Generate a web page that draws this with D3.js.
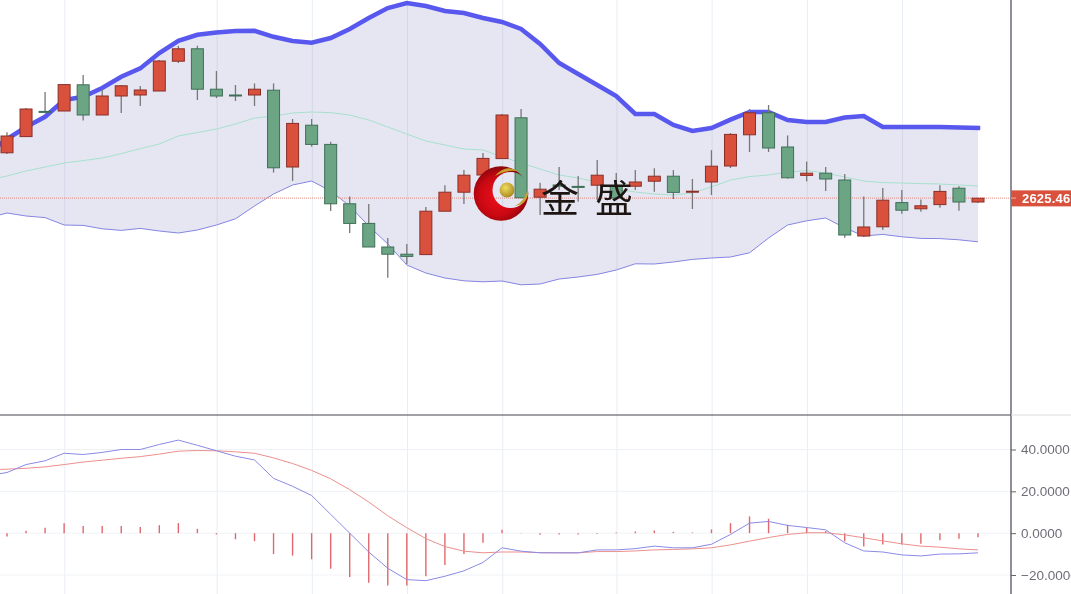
<!DOCTYPE html>
<html><head><meta charset="utf-8">
<script src="https://cdn.jsdelivr.net/npm/d3@7/dist/d3.min.js"></script>
<style>html,body{margin:0;padding:0;background:#fff;overflow:hidden}svg{display:block;filter:blur(0.35px)}</style>
</head><body><svg id="c" width="1071" height="594"></svg>
<script>
const open_=[2648.1,2656.2,2668.8,2669,2682.1,2667,2676.5,2677,2679,2693.9,2700.1,2679.9,2677,2677,2679.4,2641,2661.9,2652.3,2622.6,2612.8,2601,2597.4,2597.2,2618.9,2628.4,2637,2645.2,2665.6,2625.9,2632,2631.3,2631.9,2631.6,2631.4,2633.9,2636.4,2628.6,2633.5,2641.5,2657.1,2668.1,2651,2636.8,2637.9,2634.5,2606.5,2611.1,2623.2,2620.1,2622.2,2630.4,2623.5];
const high_=[2658.4,2670.5,2678.5,2682.2,2687,2680,2682,2681.5,2694.5,2701.6,2701.6,2689,2682,2682.8,2682.8,2665,2665,2653.6,2626.2,2622.5,2605.5,2602.5,2621,2631.9,2639.5,2648,2667.5,2670,2633.1,2641,2636.5,2644.5,2638,2639.5,2640.4,2639.5,2635,2649.4,2658,2670,2672,2656.8,2643.7,2641,2637.5,2626.2,2630.5,2629.5,2624.8,2631.9,2631.4,2625.4];
const low_=[2647.5,2656,2668.5,2669,2664.2,2667,2668,2671.5,2679,2693,2674.5,2675.5,2674,2671.5,2638.2,2634,2651.2,2619,2608,2601,2585.6,2592.5,2597.2,2618.9,2622.5,2636.5,2645.5,2625.5,2617,2629.5,2623.6,2624.5,2631.5,2629.5,2628.6,2625,2620,2627,2640.5,2648.5,2648.5,2635.2,2633.8,2629,2605.6,2606,2609.5,2617.6,2618.6,2620.6,2619.1,2623];
const close_=[2656.5,2670,2668.3,2682.2,2667,2676.5,2681.6,2679.5,2694,2700.1,2679.9,2676.5,2676.5,2679.9,2640.6,2662.8,2652.3,2622.6,2612.8,2601,2597.4,2596.3,2618.9,2628.4,2636.9,2645.3,2667,2625.6,2629.9,2631.4,2630.9,2636.9,2625.5,2633.5,2636.4,2628.3,2628.9,2641.4,2657.3,2668.1,2650.5,2635.6,2637.9,2635,2607,2611,2624.4,2619.4,2621.6,2628.8,2623.5,2625.4];
// line series start one bar before the first visible candle
const bandUpper=[2648,2655,2661,2666.1,2674.5,2676.1,2680.5,2686.1,2690.3,2698,2704.1,2707.1,2708.3,2709,2709.1,2706.1,2704,2703.1,2705.5,2710,2715.5,2720.5,2723,2721.5,2719,2718,2715.5,2713.5,2710,2702.5,2693,2687.5,2682,2676.5,2667.5,2667.5,2662,2659,2660.5,2664.7,2668.5,2668.5,2664.5,2663.5,2663.5,2665.7,2666.5,2661,2661,2661,2661,2660.7,2660.5];
const bandMiddle=[2634.5,2636.5,2639,2641,2643,2644.2,2645.5,2647.7,2650.2,2652.5,2656.5,2658.2,2660,2662.5,2665.5,2666.5,2668,2668.5,2668.2,2667,2664.5,2661,2657.5,2654,2652,2650,2649.5,2646.2,2643,2640,2637,2635.5,2633.5,2630,2628.5,2627.5,2627,2628,2631,2634.5,2636.2,2637,2638.5,2639.2,2638,2636,2634,2633.2,2633,2632.7,2632.5,2632,2631.5];
const bandLower=[2615.5,2618,2616.5,2615.7,2612,2611.8,2610.1,2609.3,2610.3,2609,2608,2609.5,2612,2615.1,2621.5,2627.5,2632,2634,2629,2621.5,2611.5,2602.5,2592,2588,2585.5,2584.1,2583.6,2584,2582.1,2582.5,2585,2586,2587.3,2589.5,2592.6,2592.5,2593.5,2594.8,2595.5,2596,2598.1,2605.5,2612,2614.1,2615.5,2610.6,2606.5,2607.3,2606.1,2605.3,2605.2,2604.6,2603.6];
const macdDif=[27.5,29,32.8,34.6,38.2,37.6,38.6,40,40,42.4,44.5,42,39.4,36.8,35,26.2,22.4,18,9,0,-9,-16.8,-22.2,-22.7,-20.6,-18,-14,-7,-8.6,-9.4,-9.4,-9.4,-8,-8,-7.4,-6.2,-7,-7,-5.3,-0.6,4.8,5.6,3.7,2.7,1.6,-4.6,-8.5,-9,-10.4,-10.9,-10,-9.9,-9.4];
const macdDea=[30.3,30.6,31,31.7,32.8,34,34.9,35.8,36.6,37.8,39.2,39.5,39.4,38.9,38.2,36,33.3,30,26,20.8,14.9,8.3,2.6,-2.6,-6.4,-8.6,-9.4,-9,-9,-9.3,-9.4,-9.4,-8.8,-8.8,-8.5,-8,-7.8,-7.5,-7,-5.6,-3.8,-2.1,-0.6,0.2,0.2,-0.8,-2.2,-3.7,-5.1,-6.2,-6.7,-7.5,-8];
const macdHist=[-1.6,1.1,2.6,4.8,3.4,3.4,3.4,3,3.8,4.8,2.1,-0.6,-2.9,-3.8,-10,-10.7,-12.5,-17,-21,-23.7,-25,-25,-20.6,-15.2,-10,-4.6,1.6,-0.2,-0.8,-0.6,-0.6,-0.4,0.3,0.8,1.3,0.6,0.3,1.8,4.8,8,6.9,4,2.6,1,-4,-6.4,-5.4,-5.4,-5.1,-3.4,-2.7,-1.9];
const gridIndex=[3,11,16,21,26,32,37,42,47];
const macdTicks=[40,20,0,-20];
const lastPrice=2625.46;
const tickLabel=v=>v.toFixed(4).replace('-','\u2212');
const brand=['金','盛'];

const idx=d3.range(open_.length);
const lineIdx=d3.range(bandUpper.length);
const x=d3.scaleLinear().domain([0,51]).range([7,978]);
const xl=i=>x(i-1);
const y=d3.scaleLinear().domain([2724.5,2517.5]).range([0,414]);
const ym=d3.scaleLinear().domain([40,-20]).range([449.5,575]);
const svg=d3.select('#c');
const defs=svg.append('defs');
const rg=defs.append('radialGradient').attr('id','moon').attr('cx','45%').attr('cy','55%').attr('r','60%');
rg.append('stop').attr('offset','0%').attr('stop-color','#f0101c');
rg.append('stop').attr('offset','60%').attr('stop-color','#c80812');
rg.append('stop').attr('offset','100%').attr('stop-color','#7a0408');
const gg=defs.append('radialGradient').attr('id','ball').attr('cx','40%').attr('cy','35%').attr('r','70%');
gg.append('stop').attr('offset','0%').attr('stop-color','#f0dc60');
gg.append('stop').attr('offset','100%').attr('stop-color','#a8861c');
const mk=defs.append('mask').attr('id','hole').attr('maskUnits','userSpaceOnUse').attr('x',460).attr('y',150).attr('width',90).attr('height',90);
mk.append('rect').attr('x',460).attr('y',150).attr('width',90).attr('height',90).attr('fill','#fff');
mk.append('circle').attr('cx',510.5).attr('cy',190).attr('r',18).attr('fill','#000');

// grid
const grid=svg.append('g').attr('stroke','#e8eef4').attr('stroke-width',1);
grid.selectAll('line.v').data(gridIndex).join('line').attr('class','v').attr('x1',d=>x(d)+.7).attr('x2',d=>x(d)+.7).attr('y1',0).attr('y2',594);
grid.selectAll('line.h').data(macdTicks).join('line').attr('class','h').attr('x1',0).attr('x2',1011).attr('y1',d=>ym(d)).attr('y2',d=>ym(d)).attr('stroke','#eef2f6');

// bands
svg.append('clipPath').attr('id','plot').append('rect').attr('x',0).attr('y',0).attr('width',1011).attr('height',594);
const plot=svg.append('g').attr('clip-path','url(#plot)');
plot.append('path').datum(lineIdx).attr('fill','rgb(90,90,170)').attr('fill-opacity',.15)
 .attr('d',d3.area().x(xl).y0(i=>y(bandLower[i])).y1(i=>y(bandUpper[i])));
const lineOf=a=>d3.line().x(xl).y(i=>y(a[i]));
plot.append('path').datum(lineIdx).attr('fill','none').attr('stroke','#5858ee').attr('stroke-width',4.5).attr('stroke-linecap','square').attr('d',lineOf(bandUpper));
plot.append('path').datum(lineIdx).attr('fill','none').attr('stroke','#a6e0cc').attr('stroke-width',1).attr('d',lineOf(bandMiddle));
plot.append('path').datum(lineIdx).attr('fill','none').attr('stroke','#8484e2').attr('stroke-width',1).attr('d',lineOf(bandLower));

// price line
svg.append('line').attr('x1',0).attr('x2',1011).attr('y1',y(lastPrice)).attr('y2',y(lastPrice)).attr('stroke','#e08a80').attr('stroke-width',1).attr('stroke-dasharray','1 1');

// candles
const colUp='#d9513d',colDn='#6ba584',edgeUp='#8a2f28',edgeDn='#3f6f58';
const cg=svg.append('g');
cg.selectAll('line').data(idx).join('line').attr('x1',i=>x(i)).attr('x2',i=>x(i)).attr('y1',i=>y(high_[i])).attr('y2',i=>y(low_[i])).attr('stroke','#777').attr('stroke-width',1.3);
cg.selectAll('rect').data(idx).join('rect')
 .attr('x',i=>x(i)-6).attr('width',12)
 .attr('y',i=>y(Math.max(open_[i],close_[i])))
 .attr('height',i=>Math.max(1,Math.abs(y(open_[i])-y(close_[i]))))
 .attr('fill',i=>close_[i]>=open_[i]?colUp:colDn)
 .attr('stroke',i=>close_[i]>=open_[i]?edgeUp:edgeDn).attr('stroke-width',1);

// logo
const lg=svg.append('g');
lg.append('circle').attr('cx',501).attr('cy',193.5).attr('r',27.3).attr('fill','url(#moon)').attr('mask','url(#hole)');
lg.append('circle').attr('cx',507).attr('cy',190).attr('r',7.5).attr('fill','url(#ball)');
lg.append('path').attr('fill','#c8a02c').attr('d','M495 176 Q506 163 519 172 Q510 168 495 176Z');
lg.append('path').attr('fill','#c8a02c').attr('d','M515 206 Q524 202 528 189 Q529 204 515 206Z');
lg.selectAll('text').data(brand).join('text').attr('x',(d,i)=>i?614:560).attr('y',212)
 .attr('text-anchor','middle').attr('font-family','"Noto Sans CJK SC"').attr('font-size',38).attr('fill','#1c1512').text(d=>d);

// macd
const mg=svg.append('g');
mg.selectAll('line').data(idx).join('line').attr('x1',i=>x(i)).attr('x2',i=>x(i)).attr('y1',ym(0)).attr('y2',i=>ym(macdHist[i])).attr('stroke','#e0686c').attr('stroke-width',1.4);
const ml=a=>d3.line().x(xl).y(i=>ym(a[i]));
plot.append('path').datum(lineIdx).attr('fill','none').attr('stroke','#eb8f8c').attr('stroke-width',1).attr('d',ml(macdDea));
plot.append('path').datum(lineIdx).attr('fill','none').attr('stroke','#8a8ae6').attr('stroke-width',1).attr('d',ml(macdDif));
svg.node().appendChild(plot.selectAll('path').filter((d,i)=>i>=4).nodes()[0]);
svg.node().appendChild(plot.selectAll('path').filter((d,i)=>i>=4).nodes()[0]);

// axes
svg.append('line').attr('x1',1011).attr('x2',1011).attr('y1',0).attr('y2',594).attr('stroke','#44444e').attr('stroke-width',1.2);
svg.append('line').attr('x1',0).attr('x2',1011).attr('y1',415).attr('y2',415).attr('stroke','#44444e').attr('stroke-width',1.2);
svg.append('line').attr('x1',1011).attr('x2',1071).attr('y1',415).attr('y2',415).attr('stroke','#dcdce2');
const ax=d3.axisRight(ym).tickValues(macdTicks).tickSize(5).tickPadding(5).tickFormat(tickLabel);
const ag=svg.append('g').attr('transform','translate(1011,0)').call(ax);
ag.select('.domain').remove();
ag.selectAll('line').attr('stroke','#666');
ag.selectAll('text').attr('font-family','"Liberation Sans"').attr('font-size',13.5).attr('fill','#6e6e78');

// last price label
const py=y(lastPrice);
svg.append('rect').attr('x',1011).attr('y',py-7.7).attr('width',60).attr('height',16).attr('fill','#d9513d');
svg.append('line').attr('x1',1011).attr('x2',1016).attr('y1',py).attr('y2',py).attr('stroke','#f0b0a8');
svg.append('text').attr('x',1022).attr('y',py+4.6).attr('font-family','"Liberation Sans"').attr('font-weight','bold').attr('font-size',13).attr('letter-spacing',.2).attr('fill','#fff').text(lastPrice.toFixed(3));
</script></body></html>
